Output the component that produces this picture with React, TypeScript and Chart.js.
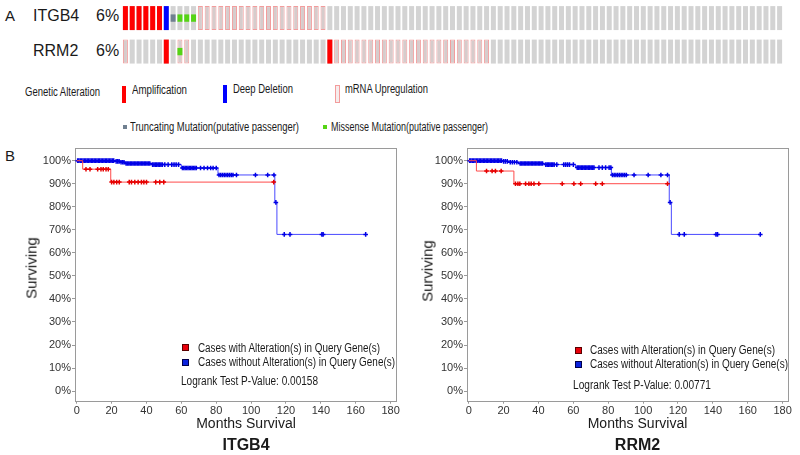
import React, { useEffect, useLayoutEffect, useRef } from "react";
import { Chart, registerables } from "chart.js";

Chart.register(...registerables);

const FONT = "'Liberation Sans', Arial, Helvetica, sans-serif";

// ---------------- Panel A data (oncoprint) ----------------
const GENES = ["ITGB4", "RRM2"];
const GENE_PCT = ["6%", "6%"];
const SAMPLES = Array.from({ length: 97 }, (_, i) => `S${i + 1}`);

const ITGB4_AMP = [0, 1, 2, 3, 4, 5];
const ITGB4_DEL = [6];
const ITGB4_TRUNC = [7];
const ITGB4_MISSENSE = [8, 9, 10];
const ITGB4_MRNA_UP = [11, 12, 13, 14, 15, 16, 17, 18, 19, 20, 21, 22, 23, 24, 25, 26, 27, 28, 29];

const RRM2_AMP = [6, 30];
const RRM2_DEL: number[] = [];
const RRM2_TRUNC: number[] = [];
const RRM2_MISSENSE = [8];
const RRM2_MRNA_UP = [0, 8, 9, 31, 32, 33, 34, 35, 36, 37, 38, 39, 40, 41, 42, 43, 44, 45, 46, 47, 48, 49, 50, 51, 52, 53];

// ---------------- Panel B data (Kaplan-Meier) ----------------
const X_TICKS = [0, 20, 40, 60, 80, 100, 120, 140, 160, 180];
const Y_TICKS = [0, 10, 20, 30, 40, 50, 60, 70, 80, 90, 100];

const ITGB4_ALT_EVENT_T = [0, 3.4, 19.5];
const ITGB4_ALT_EVENT_S = [100, 96.3, 90.7];
const ITGB4_ALT_CENSOR_T = [5.3, 7.6, 12.0, 13.9, 15.2, 16.8, 18.1, 20.0, 21.3, 22.9, 24.4, 30.1, 31.4, 33.3, 35.2, 37.1, 38.5, 40.0, 45.3, 47.6, 49.9, 113.0];

const ITGB4_UNALT_EVENT_T = [0, 21.9, 24.8, 27.6, 42.9, 60.0, 81.0, 113.6, 114.8];
const ITGB4_UNALT_EVENT_S = [100, 99.7, 99.3, 98.8, 98.3, 96.8, 93.8, 81.9, 68.0];
const ITGB4_UNALT_CENSOR_T = [
  0.5, 1.2, 2.0, 2.8, 3.6, 4.4, 5.2, 6.0, 6.8, 7.6, 8.4, 9.2, 10.0, 10.8, 11.6, 12.4, 13.2, 14.0, 14.8, 15.6,
  16.4, 17.2, 18.0, 18.8, 19.6, 20.4, 21.2, 22.6, 23.5, 24.3, 25.4, 26.3, 27.1, 28.3, 29.1, 29.9, 30.7, 31.5,
  32.3, 33.1, 33.9, 34.7, 35.5, 36.3, 37.1, 37.9, 38.7, 39.5, 40.3, 41.1, 41.9, 43.5, 44.3, 45.1, 45.9, 46.7,
  47.5, 48.3, 49.1, 50.5, 52.4, 54.5, 55.8, 57.0, 58.4, 60.6, 61.4, 62.2, 63.0, 63.8, 64.6, 65.4, 66.2, 67.0,
  67.8, 68.6, 71.0, 73.0, 75.0, 76.8, 78.2, 80.0, 81.6, 82.6, 83.6, 84.6, 85.6, 86.6, 87.6, 88.6, 89.6, 91.6,
  102.5, 109.5, 113.1, 114.2, 119.0, 122.3, 140.6, 141.3, 165.7,
];

const RRM2_ALT_EVENT_T = [0, 4.4, 25.9];
const RRM2_ALT_EVENT_S = [100, 95.5, 90.0];
const RRM2_ALT_CENSOR_T = [10.2, 13.4, 15.3, 18.6, 26.8, 28.2, 29.3, 32.6, 34.5, 35.8, 37.4, 40.2, 53.6, 60.3, 64.2, 72.8, 76.6, 114.0];

const RRM2_UNALT_EVENT_T = [0, 19.2, 23.0, 28.7, 43.1, 61.3, 81.8, 115.0, 116.2];
const RRM2_UNALT_EVENT_S = [100, 99.7, 99.3, 98.8, 98.3, 97.0, 93.8, 81.9, 68.0];
const RRM2_UNALT_CENSOR_T = [
  0.5, 1.2, 2.0, 2.8, 3.6, 4.4, 5.2, 6.0, 6.8, 7.6, 8.4, 9.2, 10.0, 10.8, 11.6, 12.4, 13.2, 14.0, 14.8, 15.6,
  16.4, 17.2, 18.0, 18.8, 20.0, 21.0, 22.1, 23.8, 25.0, 26.2, 27.6, 29.5, 30.3, 31.1, 31.9, 32.7, 33.5, 34.3,
  35.1, 35.9, 36.7, 37.5, 38.3, 39.1, 39.9, 40.7, 41.5, 42.3, 44.2, 45.0, 45.8, 46.6, 47.4, 48.2, 49.0, 50.5,
  54.5, 55.6, 56.7, 57.8, 60.0, 62.2, 63.0, 63.8, 64.6, 65.4, 66.2, 67.0, 67.8, 68.6, 69.4, 70.2, 71.0, 71.8,
  74.7, 76.6, 78.5, 80.5, 81.5, 82.4, 83.4, 84.4, 85.4, 86.4, 87.4, 88.4, 89.4, 90.4, 94.8, 102.9, 110.2,
  114.0, 115.5, 120.7, 123.6, 141.8, 142.7, 167.2,
];

// ---------------- styles ----------------
const GREY = "#d3d3d3";
const MRNA_FILL = "#d6cccc";
const MRNA_BORDER = "#f39c9c";
const AMP_RED = "#ff0000";
const DEL_BLUE = "#0000ff";
const MISSENSE_GREEN = "#55d415";
const TRUNC_GRAY = "#708090";
const TEXT = "#1a1a1a";
const FRAME = "#9a9a9a";

// ---------------- helpers ----------------
type TxtProps = { x: number; cy: number; size: number; text: string; w?: number; bold?: boolean; center?: boolean };
function Txt({ x, cy, size, text, w, bold, center }: TxtProps) {
  const ref = useRef<HTMLSpanElement>(null);
  useLayoutEffect(() => {
    const el = ref.current;
    if (!el) return;
    if (center) {
      el.style.transform = "translateX(-50%)";
      return;
    }
    if (w) {
      el.style.transform = "none";
      const nw = el.getBoundingClientRect().width;
      if (nw > 0) el.style.transform = `scaleX(${w / nw})`;
    }
  });
  return (
    <span
      ref={ref}
      style={{
        position: "absolute",
        left: x,
        top: cy - size / 2,
        fontSize: size,
        lineHeight: `${size}px`,
        fontFamily: FONT,
        fontWeight: bold ? "bold" : "normal",
        color: TEXT,
        whiteSpace: "nowrap",
        transformOrigin: "0 0",
      }}
    >
      {text}
    </span>
  );
}

function VTxt({ cx, cy, size, text }: { cx: number; cy: number; size: number; text: string }) {
  return (
    <span
      style={{
        position: "absolute",
        left: cx,
        top: cy,
        fontSize: size,
        lineHeight: `${size}px`,
        fontFamily: FONT,
        color: TEXT,
        whiteSpace: "nowrap",
        transform: "translate(-50%, -50%) rotate(-90deg)",
      }}
    >
      {text}
    </span>
  );
}

function Box({ x, y, w, h, bg, border }: { x: number; y: number; w: number; h: number; bg: string; border?: string }) {
  return (
    <div
      style={{
        position: "absolute",
        left: x,
        top: y,
        width: w,
        height: h,
        background: bg,
        border: border ? `1px solid ${border}` : "none",
        boxSizing: "border-box",
      }}
    />
  );
}

// ---------------- Oncoprint ----------------
const ONCO_LEFT = 122;
const ONCO_W = 661;
const ONCO_H = 70;
const CELL_HALF = 0.358;
const MUT_HALF = 0.11;

function Oncoprint() {
  const ref = useRef<HTMLCanvasElement>(null);
  useEffect(() => {
    const tracks = [
      { amp: ITGB4_AMP, del: ITGB4_DEL, trunc: ITGB4_TRUNC, missense: ITGB4_MISSENSE, mrna: ITGB4_MRNA_UP },
      { amp: RRM2_AMP, del: RRM2_DEL, trunc: RRM2_TRUNC, missense: RRM2_MISSENSE, mrna: RRM2_MRNA_UP },
    ];
    const datasets: any[] = [];
    tracks.forEach((t, r) => {
      const full = [r - CELL_HALF, r + CELL_HALF];
      const mut = [r - MUT_HALF, r + MUT_HALF];
      datasets.push({
        label: `${GENES[r]} base`,
        data: SAMPLES.map(() => full),
        backgroundColor: SAMPLES.map((_, i) => (t.mrna.includes(i) ? MRNA_FILL : GREY)),
        borderColor: SAMPLES.map((_, i) => (t.mrna.includes(i) ? MRNA_BORDER : "rgba(0,0,0,0)")),
        borderWidth: SAMPLES.map((_, i) => (t.mrna.includes(i) ? 1 : 0)),
        borderSkipped: false,
        order: 3,
      });
      datasets.push({
        label: `${GENES[r]} cna`,
        data: SAMPLES.map((_, i) => (t.amp.includes(i) || t.del.includes(i) ? full : null)),
        backgroundColor: SAMPLES.map((_, i) => (t.amp.includes(i) ? AMP_RED : DEL_BLUE)),
        borderWidth: 0,
        order: 2,
      });
      datasets.push({
        label: `${GENES[r]} mutation`,
        data: SAMPLES.map((_, i) => (t.trunc.includes(i) || t.missense.includes(i) ? mut : null)),
        backgroundColor: SAMPLES.map((_, i) => (t.trunc.includes(i) ? TRUNC_GRAY : MISSENSE_GREEN)),
        borderWidth: 0,
        order: 1,
      });
    });
    const chart = new Chart(ref.current as HTMLCanvasElement, {
      type: "bar",
      data: { labels: SAMPLES, datasets },
      options: {
        responsive: false,
        animation: false,
        devicePixelRatio: 1,
        layout: { padding: 0 },
        plugins: { legend: { display: false }, tooltip: { enabled: false }, title: { display: false } },
        datasets: { bar: { grouped: false, barPercentage: 0.734, categoryPercentage: 1 } } as any,
        scales: {
          x: { type: "category", display: false, offset: true },
          y: { type: "linear", display: false, min: -0.54, max: 1.55, reverse: true },
        },
      } as any,
    });
    return () => chart.destroy();
  }, []);
  return (
    <canvas
      ref={ref}
      width={ONCO_W}
      height={ONCO_H}
      style={{ position: "absolute", left: ONCO_LEFT, top: 0, width: ONCO_W, height: ONCO_H }}
    />
  );
}

// ---------------- KM charts ----------------
const KM_TOP = 140;
const KM_W = 375;
const KM_H = 285;
const Y_AXIS_W = 45;
const X_AXIS_H = 23.3;
const X_MIN = -1;
const X_MAX = 183.5;
const Y_MIN = -4.6;
const Y_MAX = 105.5;

function survAt(times: number[], surv: number[], t: number) {
  let s = surv[0];
  for (let i = 0; i < times.length; i++) if (times[i] <= t) s = surv[i];
  return s;
}

function curvePoints(times: number[], surv: number[], censor: number[]) {
  const pts = times.map((t, i) => ({ x: t, y: surv[i] }));
  const lastT = Math.max(...censor, ...times);
  pts.push({ x: lastT, y: survAt(times, surv, lastT) });
  return pts;
}

function censorPoints(times: number[], surv: number[], censor: number[]) {
  return censor.map((t) => ({ x: t, y: survAt(times, surv, t) }));
}

type KMProps = {
  canvasLeft: number;
  gene: string;
  altT: number[];
  altS: number[];
  altC: number[];
  unT: number[];
  unS: number[];
  unC: number[];
  pValue: string;
  legSqX: number;
  legY1: number;
  legY2: number;
  legTxtX: number;
  legW1: number;
  legW2: number;
  pX: number;
  pY: number;
  pW: number;
  survCx: number;
  survCy: number;
  titleCx: number;
};

function KMPanel(p: KMProps) {
  const ref = useRef<HTMLCanvasElement>(null);
  useEffect(() => {
    const tickFont = { family: FONT, size: 11 };
    const chart = new Chart(ref.current as HTMLCanvasElement, {
      type: "scatter",
      data: {
        datasets: [
          {
            type: "scatter",
            label: "Cases with Alteration(s) in Query Gene(s) censored",
            data: censorPoints(p.altT, p.altS, p.altC),
            pointStyle: "cross",
            pointRadius: 2.3,
            pointBorderWidth: 1.5,
            pointBorderColor: "#e60000",
            borderColor: "#e60000",
            backgroundColor: "#e60000",
            order: 0,
          },
          {
            type: "line",
            label: "Cases with Alteration(s) in Query Gene(s)",
            data: curvePoints(p.altT, p.altS, p.altC),
            borderColor: "#ff4a4a",
            borderWidth: 1,
            pointRadius: 0,
            stepped: "before",
            fill: false,
            order: 1,
          },
          {
            type: "scatter",
            label: "Cases without Alteration(s) in Query Gene(s) censored",
            data: censorPoints(p.unT, p.unS, p.unC),
            pointStyle: "cross",
            pointRadius: 2.3,
            pointBorderWidth: 1.5,
            pointBorderColor: "#0000e6",
            borderColor: "#0000e6",
            backgroundColor: "#0000e6",
            order: 2,
          },
          {
            type: "line",
            label: "Cases without Alteration(s) in Query Gene(s)",
            data: curvePoints(p.unT, p.unS, p.unC),
            borderColor: "#4a4aff",
            borderWidth: 1,
            pointRadius: 0,
            stepped: "before",
            fill: false,
            order: 3,
          },
        ] as any,
      },
      options: {
        responsive: false,
        animation: false,
        devicePixelRatio: 1,
        layout: { padding: { top: 8, right: KM_W - Y_AXIS_W - 321.7, left: 0, bottom: 0 } },
        plugins: { legend: { display: false }, tooltip: { enabled: false }, title: { display: false } },
        scales: {
          x: {
            type: "linear",
            position: "bottom",
            min: X_MIN,
            max: X_MAX,
            afterBuildTicks: (s: any) => {
              s.ticks = X_TICKS.map((v) => ({ value: v }));
            },
            afterFit: (s: any) => {
              s.height = X_AXIS_H;
            },
            ticks: { font: tickFont, color: "#333", padding: 1, maxRotation: 0, autoSkip: false },
            grid: { display: true, drawOnChartArea: false, drawTicks: true, tickLength: 2, color: FRAME },
            border: { display: true, color: FRAME, width: 1 },
          },
          x2: {
            type: "linear",
            position: "top",
            min: 0,
            max: 1,
            ticks: { display: false },
            grid: { display: false, drawTicks: false },
            border: { display: true, color: FRAME, width: 1 },
            afterFit: (s: any) => {
              s.height = 0;
            },
          },
          y: {
            type: "linear",
            position: "left",
            min: Y_MIN,
            max: Y_MAX,
            afterBuildTicks: (s: any) => {
              s.ticks = Y_TICKS.map((v) => ({ value: v }));
            },
            afterFit: (s: any) => {
              s.width = Y_AXIS_W;
            },
            ticks: { font: tickFont, color: "#333", padding: 1, callback: (v: any) => `${v}%` },
            grid: { display: true, drawOnChartArea: false, drawTicks: true, tickLength: 3, color: FRAME },
            border: { display: true, color: FRAME, width: 1 },
          },
          y2: {
            type: "linear",
            position: "right",
            min: 0,
            max: 1,
            ticks: { display: false },
            grid: { display: false, drawTicks: false },
            border: { display: true, color: FRAME, width: 1 },
            afterFit: (s: any) => {
              s.width = 0;
            },
          },
        },
      } as any,
    });
    return () => chart.destroy();
  }, []);
  const sq = 7;
  return (
    <>
      <canvas
        ref={ref}
        width={KM_W}
        height={KM_H}
        style={{ position: "absolute", left: p.canvasLeft, top: KM_TOP, width: KM_W, height: KM_H }}
      />
      <VTxt cx={p.survCx} cy={p.survCy} size={15} text="Surviving" />
      <Txt x={p.titleCx} cy={423} size={14} text="Months Survival" center />
      <Txt x={p.titleCx} cy={445} size={16} text={p.gene} bold center />
      <Box x={p.legSqX} y={p.legY1 - sq / 2} w={sq} h={sq} bg="#e8000a" border="#5a0000" />
      <Box x={p.legSqX} y={p.legY2 - sq / 2} w={sq} h={sq} bg="#0a22dd" border="#00004a" />
      <Txt x={p.legTxtX} cy={p.legY1} size={12} w={p.legW1} text="Cases with Alteration(s) in Query Gene(s)" />
      <Txt x={p.legTxtX} cy={p.legY2} size={12} w={p.legW2} text="Cases without Alteration(s) in Query Gene(s)" />
      <Txt x={p.pX} cy={p.pY} size={12} w={p.pW} text={`Logrank Test P-Value: ${p.pValue}`} />
    </>
  );
}

const ROW_CY = [16, 50.5];

export default function App() {
  return (
    <div
      style={{
        position: "absolute",
        left: 0,
        top: 0,
        width: 800,
        height: 455,
        background: "#ffffff",
        overflow: "hidden",
        fontFamily: FONT,
      }}
    >
      {/* Panel A */}
      <Txt x={5} cy={15} size={15} text="A" />
      {GENES.map((g, i) => (
        <React.Fragment key={g}>
          <Txt x={33} cy={ROW_CY[i]} size={16} text={g} />
          <Txt x={96} cy={ROW_CY[i]} size={16} text={GENE_PCT[i]} />
        </React.Fragment>
      ))}
      <Oncoprint />
      <Txt x={25} cy={92.7} size={12.5} w={75} text="Genetic Alteration" />
      <Box x={122} y={86} w={4} h={17} bg={AMP_RED} />
      <Txt x={131.7} cy={90.5} size={12.5} w={55} text="Amplification" />
      <Box x={223} y={85} w={4} h={18} bg={DEL_BLUE} />
      <Txt x={232.5} cy={89} size={12.5} w={60} text="Deep Deletion" />
      <Box x={335} y={85} w={5} h={18} bg="#f6ecec" border={MRNA_BORDER} />
      <Txt x={344.5} cy={89} size={12.5} w={83} text="mRNA Upregulation" />
      <Box x={123} y={124.5} w={4} h={4} bg={TRUNC_GRAY} />
      <Txt x={130} cy={127} size={12.5} w={169} text="Truncating Mutation(putative passenger)" />
      <Box x={323} y={124.5} w={4} h={4} bg={MISSENSE_GREEN} />
      <Txt x={331} cy={127} size={12.5} w={157} text="Missense Mutation(putative passenger)" />

      {/* Panel B */}
      <Txt x={5} cy={155} size={15} text="B" />
      <KMPanel
        canvasLeft={30}
        gene="ITGB4"
        altT={ITGB4_ALT_EVENT_T}
        altS={ITGB4_ALT_EVENT_S}
        altC={ITGB4_ALT_CENSOR_T}
        unT={ITGB4_UNALT_EVENT_T}
        unS={ITGB4_UNALT_EVENT_S}
        unC={ITGB4_UNALT_CENSOR_T}
        pValue="0.00158"
        legSqX={181.5}
        legY1={347.5}
        legY2={362}
        legTxtX={198.3}
        legW1={182}
        legW2={197}
        pX={181}
        pY={380.7}
        pW={137}
        survCx={31}
        survCy={268}
        titleCx={246}
      />
      <KMPanel
        canvasLeft={422}
        gene="RRM2"
        altT={RRM2_ALT_EVENT_T}
        altS={RRM2_ALT_EVENT_S}
        altC={RRM2_ALT_CENSOR_T}
        unT={RRM2_UNALT_EVENT_T}
        unS={RRM2_UNALT_EVENT_S}
        unC={RRM2_UNALT_CENSOR_T}
        pValue="0.00771"
        legSqX={574.5}
        legY1={350}
        legY2={364}
        legTxtX={590}
        legW1={185}
        legW2={198}
        pX={573.3}
        pY={385}
        pW={138}
        survCx={427}
        survCy={271}
        titleCx={637.5}
      />
    </div>
  );
}
